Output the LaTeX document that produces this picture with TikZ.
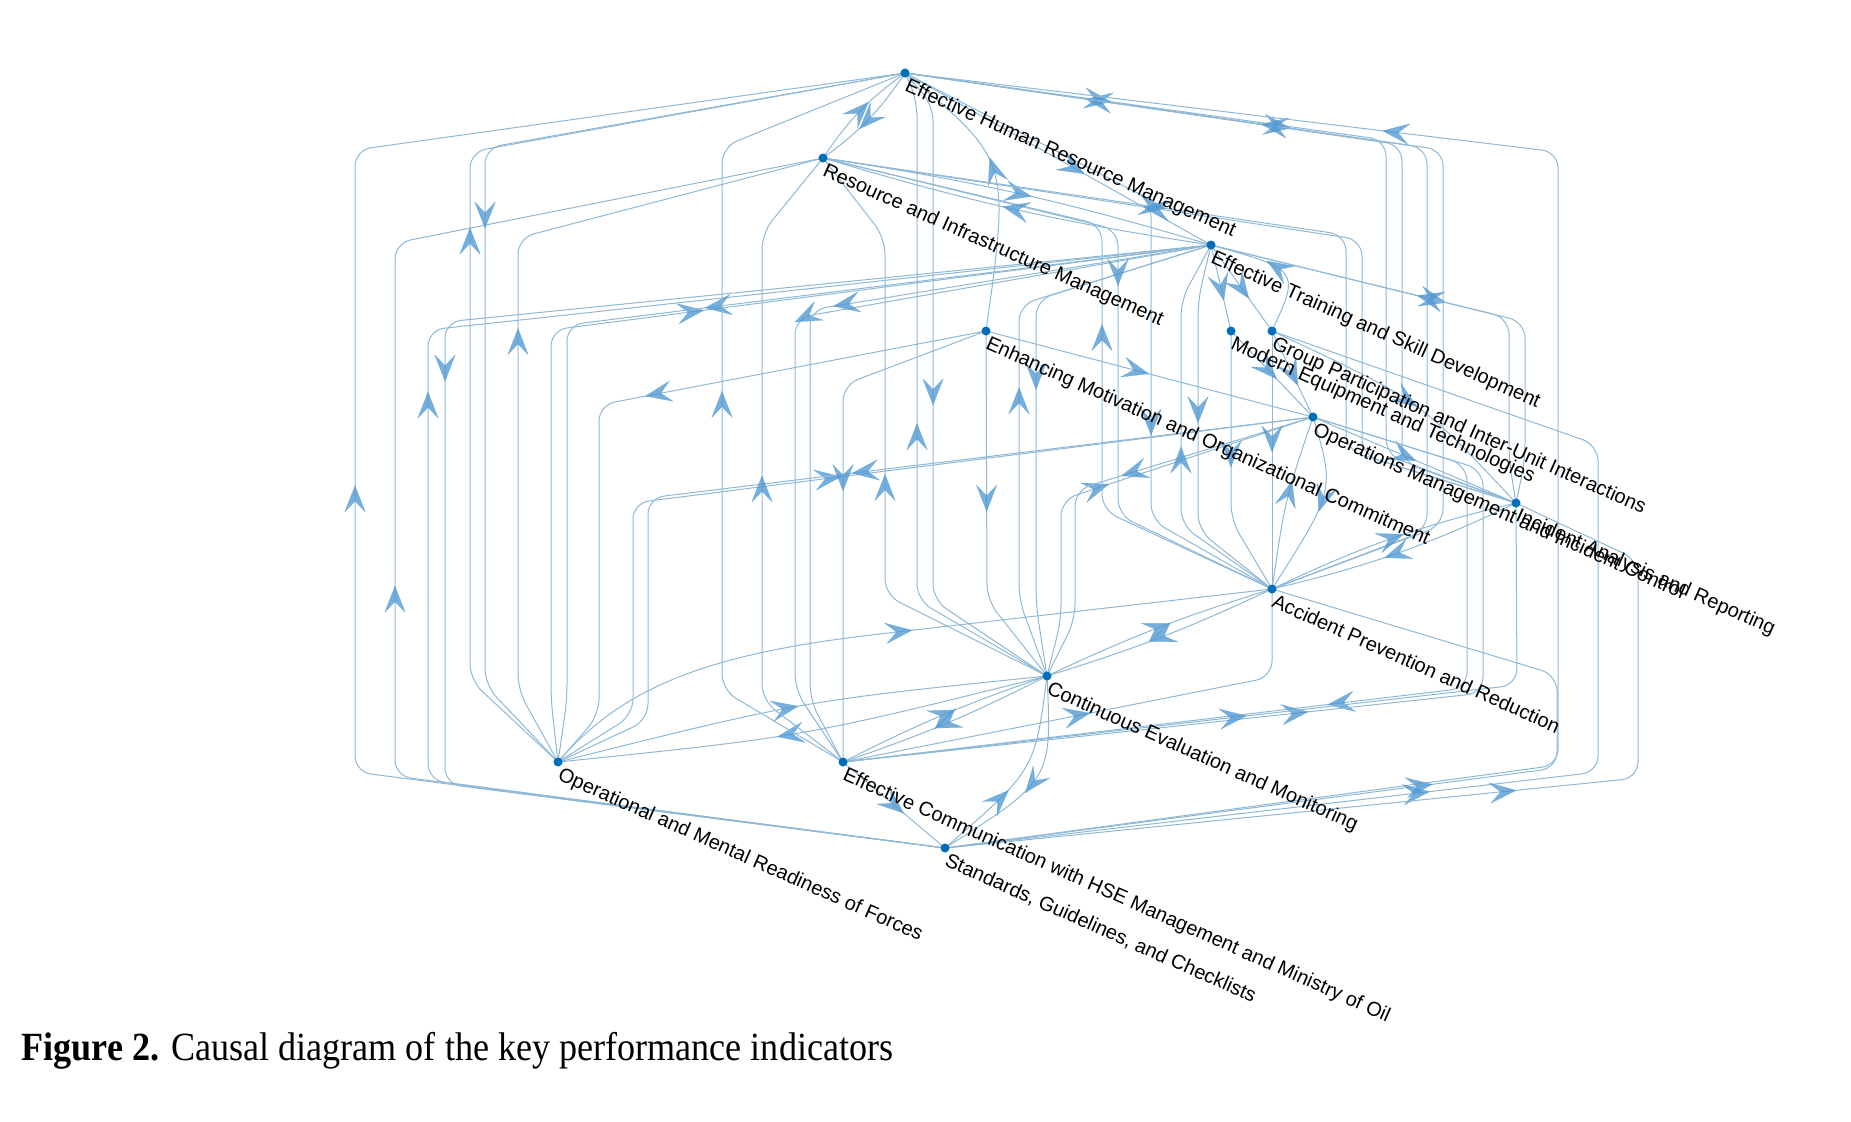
\documentclass[tikz,border=0pt]{standalone}
\usepackage{fontspec}
\setmainfont{Liberation Serif}
\newfontfamily\labfont{Liberation Sans}
\usetikzlibrary{arrows.meta,decorations.markings}
\definecolor{edgec}{RGB}{142,184,214}
\definecolor{arrc}{RGB}{80,152,210}
\definecolor{dotc}{RGB}{0,110,185}
\tikzset{
  e/.style={draw=edgec, line width=0.5pt, rounded corners=8pt,
    postaction={decorate},
    decoration={markings, mark=at position #1 with {\pgfsetfillopacity{0.78}\pgfsetstrokeopacity{0.78}\arrow[xshift=6.5pt]{Stealth[length=13.5pt,width=10.5pt,inset=5.5pt,color=arrc,line width=0.1pt]}}}},
  e/.default=0.5,
  kpi/.style={circle, fill=dotc, inner sep=0pt, minimum size=4.5pt},
  lab/.style={font=\labfont\fontsize{10}{11}\selectfont, rotate=-24, anchor=north west, inner sep=0.8pt, xshift=2pt},
}
\begin{document}
\begin{tikzpicture}[x=0.5pt,y=-0.5pt]
\useasboundingbox (0,0) rectangle (1851,1121);
% node positions
\coordinate (A) at (905,73);
\coordinate (B) at (823,158);
\coordinate (C) at (1211,245);
\coordinate (D) at (986,331);
\coordinate (E) at (1231,331);
\coordinate (F) at (1272,331);
\coordinate (G) at (1313,417);
\coordinate (H) at (1516,503);
\coordinate (I) at (1272,589);
\coordinate (J) at (1047,676);
\coordinate (K) at (558,762);
\coordinate (L) at (843,762);
\coordinate (M) at (945,848);
% ---- left bundle
\draw[e=0.49] (M) -- (355,772) -- (355,150) -- (A);
\draw[e=0.48] (M) -- (395,776) -- (395,243) -- (B);
\draw[e=0.51] (M) -- (428,780) -- (428,330) -- (C);
\draw[e=0.47] (C) -- (445,322) -- (445,784) -- (M);
\draw[e=0.515] (K) -- (470,680) -- (470,152) -- (A);
\draw[e=0.46] (A) -- (485,148) -- (485,685) -- (K);
\draw[e=0.51] (K) -- (518,690) -- (518,238) -- (B);
\draw[e=0.52] (K) -- (551,700) -- (551,330) -- (C);
\draw[e=0.46] (C) -- (567,325) -- (567,700) -- (K);
\draw[e=0.44] (D) -- (599,405) -- (599,715) -- (K);
\draw[e=0.50] (K) -- (633,715) -- (633,503) -- (G);
\draw[e=0.46] (G) -- (648,498) -- (648,720) -- (K);
\draw[e=0.5] (K) .. controls (620,690) and (700,655) .. (888,633) -- (I);
\draw[e=0.47] (K) .. controls (802,701) .. (J);
\draw[e=0.53] (J) .. controls (802,737) .. (K);
% ---- middle bundle
\draw[e=0.485] (L) -- (722,690) -- (722,147) -- (A);
\draw[e=0.47] (L) -- (762,700) -- (762,233) -- (B);
\draw[e=0.47] (C) -- (795,318) -- (795,690) -- (L);
\draw[e=0.43] (C) -- (810,310) -- (810,700) -- (L);
\draw[e=0.46] (D) -- (843,385) -- (L);
\draw[e=0.45] (J) -- (885,595) -- (885,238) -- (B);
\draw[e=0.46] (J) -- (917,600) -- (917,100) -- (A);
\draw[e=0.49] (A) -- (933,105) -- (933,600) -- (J);
\draw[e=0.46] (D) -- (987,600) -- (J);
\draw[e=0.49] (J) -- (1019,600) -- (1019,305) -- (C);
\draw[e=0.46] (C) -- (1036,300) -- (1036,605) -- (J);
\draw[e=0.48] (J) -- (1061,620) -- (1061,500) -- (G);
\draw[e=0.43] (G) -- (1075,490) -- (1075,620) -- (J);
% ---- fan into accident prevention
\draw[e=0.475] (I) -- (1102,510) -- (1102,225) -- (B);
\draw[e=0.455] (B) -- (1118,230) -- (1118,515) -- (I);
\draw[e=0.68] (A) -- (1151,200) -- (1151,520) -- (I);
\draw[e=0.44] (I) -- (1181,525) -- (1181,300) -- (C);
\draw[e=0.44] (C) -- (1198,300) -- (1198,530) -- (I);
\draw[e=0.46] (E) -- (1231,520) -- (I);
\draw[e=0.42] (F) -- (I);
\draw[e=0.45] (G) .. controls (1335,490) .. (I);
\draw[e=0.55] (I) .. controls (1285,500) .. (G);
% ---- local around training
\draw[e=0.5] (C) -- (E);
\draw[e=0.5] (C) -- (F);
\draw[e=0.5] (F) .. controls (1300,270) .. (C);
\draw[e=0.45] (E) -- (G);
\draw[e=0.5] (F) -- (G);
\draw[e=0.46] (D) -- (G);
\draw[e=0.55] (D) .. controls (1010,160) .. (A);
% ---- top
\draw[e=0.5] (A) to[bend left=10] (B);
\draw[e=0.5] (B) to[bend left=10] (A);
\draw[e=0.5] (B) to[bend left=4] (C);
\draw[e=0.5] (C) to[bend left=4] (B);
\draw[e=0.55] (A) -- (C);
% ---- right bundle
\draw[e=0.21] (A) -- (1386,140) -- (1386,455) -- (H);
\draw[e=0.79] (H) -- (1402,462) -- (1402,145) -- (A);
\draw[e=0.345] (A) -- (1443,150) -- (1443,525) -- (I);
\draw[e=0.65] (I) -- (1427,530) -- (1427,148) -- (A);
\draw[e=0.737] (M) -- (1558,765) -- (1558,152) -- (A);
\draw[e=0.366] (B) -- (1346,235) -- (1346,450) -- (H);
\draw[e=0.63] (H) -- (1362,455) -- (1362,240) -- (B);
\draw[e=0.47] (C) -- (1509,318) -- (1509,460) -- (H);
\draw[e=0.55] (H) -- (1525,460) -- (1525,322) -- (C);
\draw[e=0.5] (H) to[bend left=6] (I);
\draw[e=0.5] (I) to[bend left=6] (H);
\draw[e=0.45] (G) -- (H);
\draw[e=0.5] (F) .. controls (1420,400) .. (H);
% ---- bottom right
\draw[e=0.50] (G) -- (1467,465) -- (1467,688) -- (L);
\draw[e=0.44] (L) -- (1483,693) -- (1483,470) -- (G);
\draw[e=0.46] (L) -- (1517,685) -- (H);
\draw[e=0.46] (L) -- (1272,677) -- (I);
\draw[e=0.48] (M) -- (1557,768) -- (1557,675) -- (I);
\draw[e=0.36] (M) -- (1598,772) -- (1598,445) -- (F);
\draw[e=0.54] (M) -- (1638,778) -- (1638,560) -- (H);
% ---- bottom
\draw[e=0.5] (L) -- (M);
\draw[e=0.5] (J) .. controls (1052,780) .. (M);
\draw[e=0.35] (M) .. controls (1035,770) .. (J);
\draw[e=0.5] (L) to[bend left=4] (J);
\draw[e=0.5] (J) to[bend left=4] (L);
\draw[e=0.5] (J) to[bend left=4] (I);
\draw[e=0.5] (I) to[bend left=4] (J);
% ---- dots and labels
\foreach \n/\t in {A/Effective Human Resource Management,
  B/Resource and Infrastructure Management,
  C/Effective Training and Skill Development,
  D/Enhancing Motivation and Organizational Commitment,
  E/Modern Equipment and Technologies,
  F/Group Participation and Inter-Unit Interactions,
  G/Operations Management and Incident Control,
  H/Incident Analysis and Reporting,
  I/Accident Prevention and Reduction,
  J/Continuous Evaluation and Monitoring,
  K/Operational and Mental Readiness of Forces,
  L/Effective Communication with HSE Management and Ministry of Oil,
  M/{Standards, Guidelines, and Checklists}}{
  \node[kpi] (\n-dot) at (\n) {};
  \node[lab] (\n-lab) at (\n) {\t};
}
\node[anchor=base west, inner sep=0pt] (cap) at (21,1060)
  {\scalebox{0.903}[1]{\fontsize{20}{24}\selectfont\textbf{Figure 2.} Causal diagram of the key performance indicators}};
\end{tikzpicture}
\end{document}
